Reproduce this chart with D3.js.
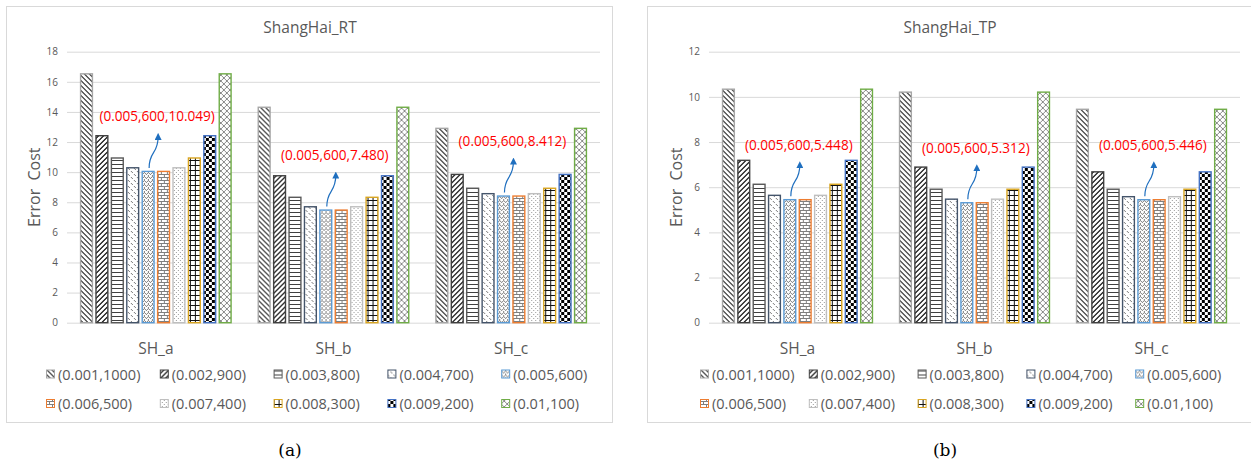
<!DOCTYPE html>
<html>
<head>
<meta charset="utf-8">
<script src="https://cdn.jsdelivr.net/npm/d3@7"></script>
<style>
  body { margin: 0; background: #fff; }
  svg { display: block; }
  text { font-family: "Open Sans", "Noto Sans", sans-serif; }
</style>
</head>
<body>
<svg id="fig" width="1251" height="463"></svg>
<script>
// ---- data -------------------------------------------------------------
const categories = ["SH_a", "SH_b", "SH_c"];
const seriesLabels = ["(0.001,1000)", "(0.002,900)", "(0.003,800)", "(0.004,700)", "(0.005,600)",
                      "(0.006,500)", "(0.007,400)", "(0.008,300)", "(0.009,200)", "(0.01,100)"];

// ShangHai_RT error cost, one value per parameter pair
const rtSHa = [16.53, 12.42, 10.94, 10.29, 10.049, 10.049, 10.29, 10.94, 12.42, 16.53];
const rtSHb = [14.31, 9.76, 8.33, 7.70, 7.480, 7.480, 7.70, 8.33, 9.76, 14.31];
const rtSHc = [12.91, 9.85, 8.93, 8.57, 8.412, 8.412, 8.57, 8.93, 9.85, 12.91];

// ShangHai_TP error cost
const tpSHa = [10.34, 7.19, 6.13, 5.64, 5.448, 5.448, 5.64, 6.13, 7.19, 10.34];
const tpSHb = [10.21, 6.89, 5.91, 5.47, 5.312, 5.312, 5.47, 5.91, 6.89, 10.21];
const tpSHc = [9.45, 6.68, 5.91, 5.58, 5.446, 5.446, 5.58, 5.91, 6.68, 9.45];

const rtTicks = [0, 2, 4, 6, 8, 10, 12, 14, 16, 18];
const tpTicks = [0, 2, 4, 6, 8, 10, 12];

const bestSeries = "(0.005,600)";   // pair called out above each group

// ---- fill patterns (8-bit style bitmaps) and outline colours -----------
const fills = [
  { fg: "#5a5a5a", stroke: "#a6a6a6", bits: ["XX...", ".XX..", "..XX.", "...XX", "X...X"] },
  { fg: "#333333", stroke: "#404040", bits: ["...XX", "..XX.", ".XX..", "XX...", "X...X"] },
  { fg: "#404040", stroke: "#595959", bits: ["XXXX", "....", "....", "...."] },
  { fg: "#7a7a7a", stroke: "#44546a", bits: ["X.....", ".X....", "......", "...X..", "....X.", "......"] },
  { fg: "#7a7a7a", stroke: "#5b9bd5", bits: ["X...", ".X.X", "..X.", "X..."] },
  { fg: "#7f7f7f", stroke: "#ed7d31", bits: ["XXXXXX", "X.....", "X.....", "XXXXXX", "...X..", "...X.."] },
  { fg: "#9a9a9a", stroke: "#bfbfbf", bits: ["X...", "....", "..X.", "...."] },
  { fg: "#111111", stroke: "#d9a520", bits: ["XXXXX", "X....", "X....", "X....", "X...."] },
  { fg: "#000000", stroke: "#4472c4", bits: ["XXX...", "XXX...", "XXX...", "...XXX", "...XXX", "...XXX"] },
  { fg: "#8a8a8a", stroke: "#70ad47", bits: ["X....X", ".X..X.", "..XX..", "..XX..", ".X..X.", "X....X"] }
];

const svg = d3.select("#fig");
const defs = svg.append("defs");

fills.forEach((f, i) => {
  const h = f.bits.length, w = f.bits[0].length;
  const p = defs.append("pattern")
    .attr("id", "pat" + i)
    .attr("patternUnits", "userSpaceOnUse")
    .attr("width", w).attr("height", h);
  p.append("rect").attr("width", w).attr("height", h).attr("fill", "#fff");
  const cells = [];
  f.bits.forEach((row, r) => row.split("").forEach((c, k) => { if (c === "X") cells.push([k, r]); }));
  p.selectAll("rect.px").data(cells).join("rect")
    .attr("class", "px")
    .attr("x", d => d[0]).attr("y", d => d[1])
    .attr("width", 1).attr("height", 1)
    .attr("fill", f.fg)
    .attr("shape-rendering", "crispEdges");
});

defs.append("marker")
  .attr("id", "arrowHead")
  .attr("viewBox", "0 0 10 10")
  .attr("refX", 5).attr("refY", 5)
  .attr("markerUnits", "userSpaceOnUse")
  .attr("markerWidth", 7).attr("markerHeight", 7)
  .attr("orient", "auto")
  .append("path")
  .attr("d", "M0,0 L10,5 L0,10 Z")
  .attr("fill", "#1f6fbf");

const gray = "#595959";
const gridColor = "#d9d9d9";

function drawPanel(cfg) {
  const g = svg.append("g");

  // chart frame
  g.append("rect")
    .attr("x", cfg.frame[0] + 0.5).attr("y", cfg.frame[1] + 0.5)
    .attr("width", cfg.frame[2]).attr("height", cfg.frame[3])
    .attr("fill", "none").attr("stroke", gridColor).attr("stroke-width", 1);

  const [left, right, top, bottom] = cfg.plot;
  const y = d3.scaleLinear().domain([0, d3.max(cfg.ticks)]).range([bottom, top]);
  const x0 = d3.scaleBand().domain(categories).range([left, right])
    .paddingInner(0.145).paddingOuter(0.0725);
  const x1 = d3.scaleBand().domain(seriesLabels).range([0, x0.bandwidth()]).paddingInner(0.14);

  // value axis with gridlines
  const yAxis = g.append("g")
    .attr("transform", `translate(${left},0)`)
    .call(d3.axisLeft(y).tickValues(cfg.ticks).tickSize(-(right - left)).tickPadding(9));
  yAxis.select(".domain").remove();
  yAxis.selectAll(".tick line").attr("stroke", gridColor).attr("stroke-width", 1);
  yAxis.selectAll(".tick text")
    .attr("fill", gray).style("font-size", "10px")
    .style("font-family", "'Open Sans', sans-serif");

  // bars
  const groups = g.selectAll("g.cat").data(categories.map((c, i) => ({ c, vals: cfg.values[i] })))
    .join("g").attr("class", "cat")
    .attr("transform", d => `translate(${x0(d.c)},0)`);
  groups.selectAll("rect").data(d => d.vals.map((v, k) => ({ v, k })))
    .join("rect")
    .attr("x", d => x1(seriesLabels[d.k]) + 0.7)
    .attr("y", d => y(d.v))
    .attr("width", x1.bandwidth() - 1.4)
    .attr("height", d => y(0) - y(d.v))
    .attr("fill", d => `url(#pat${d.k})`)
    .attr("stroke", d => fills[d.k].stroke)
    .attr("stroke-width", 1.4);

  // call-outs for the (0.005,600) pair
  const bi = seriesLabels.indexOf(bestSeries);
  const notes = g.selectAll("g.note").data(categories.map((c, i) => ({ c, v: cfg.values[i][bi] })))
    .join("g").attr("class", "note");
  notes.each(function (d) {
    const cx = x0(d.c) + x1(bestSeries) + x1.bandwidth() / 2;
    const ty = y(d.v);
    const sx = cx + 1, sy = ty - 3.5, tx = cx + 10, tipY = ty - 38;
    const mid = (sy + tipY) / 2;
    const n = d3.select(this);
    n.append("path")
      .attr("d", `M${sx},${sy} C${sx},${mid} ${tx},${mid + 4} ${tx},${tipY + 3}`)
      .attr("fill", "none").attr("stroke", "#1f6fbf").attr("stroke-width", 1.2)
      .attr("marker-end", "url(#arrowHead)");
    n.append("text")
      .attr("x", cx + 9).attr("y", ty - 55).attr("dy", "0.36em")
      .attr("text-anchor", "middle")
      .attr("fill", "#ff0000").style("font-size", cfg.noteSize + "px")
      .text(bestSeries.replace(")", "," + d.v.toFixed(3) + ")"));
  });

  // category axis labels
  const xAxis = g.append("g")
    .attr("transform", `translate(0,${cfg.catY})`)
    .call(d3.axisBottom(x0).tickSize(0).tickPadding(0));
  xAxis.select(".domain").remove();
  xAxis.selectAll(".tick text")
    .attr("y", 0).attr("dy", "0.36em")
    .attr("fill", gray).style("font-size", "15.5px")
    .style("font-family", "'Open Sans', sans-serif");

  // chart title
  g.append("text")
    .attr("x", cfg.frame[0] + cfg.titleDx).attr("y", 33)
    .attr("text-anchor", "middle")
    .attr("fill", gray).style("font-size", "15.5px")
    .text(cfg.title);

  // value axis title
  g.append("text")
    .attr("transform", `translate(${cfg.yTitleX},${(top + bottom) / 2}) rotate(-90)`)
    .attr("text-anchor", "middle")
    .attr("fill", gray).style("font-size", "16px")
    .attr("xml:space", "preserve")
    .text("Error  Cost");

  // legend: two rows of five
  const leg = g.selectAll("g.leg").data(seriesLabels).join("g").attr("class", "leg")
    .attr("transform", (d, i) => `translate(${cfg.legX + (i % 5) * cfg.legDx},${i < 5 ? 374.5 : 404})`);
  leg.append("rect")
    .attr("x", 0.5).attr("y", -4.5).attr("width", 8).attr("height", 8)
    .attr("fill", (d, i) => `url(#pat${i})`)
    .attr("stroke", (d, i) => fills[i].stroke).attr("stroke-width", 1);
  leg.append("text")
    .attr("x", 12).attr("dy", "0.36em")
    .attr("fill", gray).style("font-size", "14.5px")
    .text(d => d);

  // sub-figure caption
  svg.append("text")
    .attr("x", cfg.captionX).attr("y", 456)
    .attr("text-anchor", "middle")
    .attr("fill", "#000")
    .style("font-family", "'DejaVu Serif', 'Liberation Serif', serif")
    .style("font-size", "17px")
    .text(cfg.caption);
}

drawPanel({
  frame: [6, 6, 606, 416],
  plot: [67, 600, 51.7, 322.7],
  ticks: rtTicks,
  values: [rtSHa, rtSHb, rtSHc],
  title: "ShangHai_RT",
  titleDx: 304,
  yTitleX: 40,
  catY: 348.3,
  legX: 46,
  legDx: 113.8,
  noteSize: 13.6,
  caption: "(a)",
  captionX: 290
});

drawPanel({
  frame: [647, 6, 610, 416],
  plot: [709, 1240, 51.7, 322.7],
  ticks: tpTicks,
  values: [tpSHa, tpSHb, tpSHc],
  title: "ShangHai_TP",
  titleDx: 303,
  yTitleX: 681.7,
  catY: 348.3,
  legX: 700,
  legDx: 108.8,
  noteSize: 13.6,
  caption: "(b)",
  captionX: 945
});
</script>
</body>
</html>
